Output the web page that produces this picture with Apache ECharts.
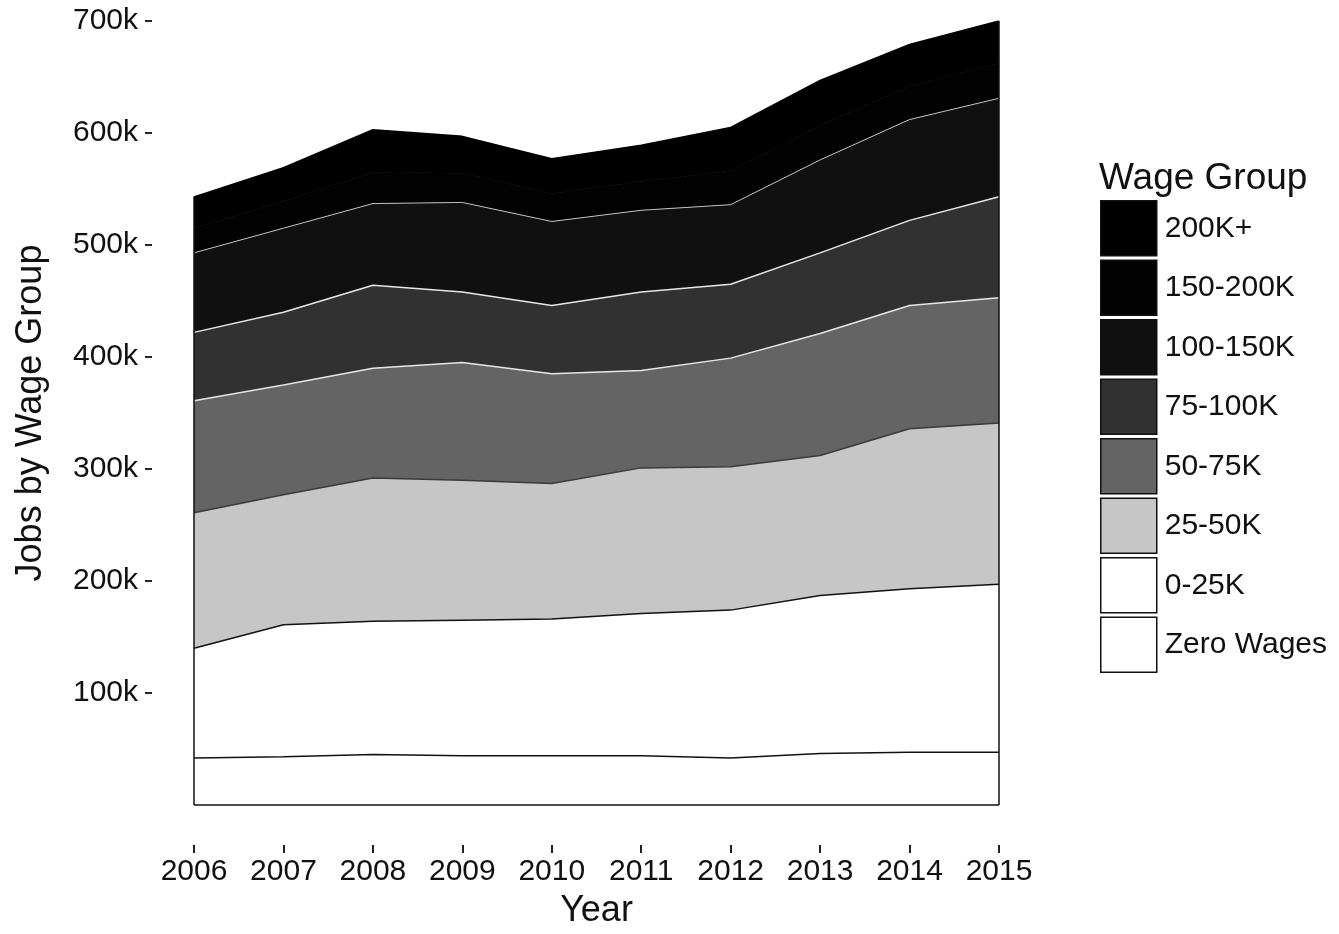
<!DOCTYPE html>
<html>
<head>
<meta charset="utf-8">
<title>Jobs by Wage Group</title>
<script src="https://cdn.jsdelivr.net/npm/echarts@6/dist/echarts.min.js"></script>
<style>
    html, body { margin: 0; padding: 0; background: #fff; }
    #chart { width: 1339px; height: 934px; }
</style>
</head>
<body>
<div id="chart"></div>
<script>
    // values in thousands of jobs
    var years = ['2006', '2007', '2008', '2009', '2010', '2011', '2012', '2013', '2014', '2015'];
    var zeroWages = [42, 43, 45, 44, 44, 44, 42, 46, 47, 47];
    var wage0to25 = [98, 118, 119, 121, 122, 127, 132, 141, 146, 150];
    var wage25to50 = [121, 116, 128, 125, 121, 130, 128, 125, 143, 144];
    var wage50to75 = [100, 98, 98, 105, 98, 87, 97, 109, 110, 112];
    var wage75to100 = [61, 65, 74, 63, 61, 70, 66, 72, 76, 90];
    var wage100to150 = [71, 75, 73, 80, 75, 73, 71, 83, 90, 88];
    var wage150to200 = [22, 24, 28, 26, 25, 26, 30, 31, 30, 31];
    var wage200plus = [28, 30, 38, 33, 31, 32, 39, 40, 37, 38];
    var yTicks = [100, 200, 300, 400, 500, 600, 700];

    var groups = [
        { name: 'Zero Wages', data: zeroWages, fill: '#ffffff', line: '#111111', w: 1.5 },
        { name: '0-25K', data: wage0to25, fill: '#ffffff', line: '#111111', w: 1.5 },
        { name: '25-50K', data: wage25to50, fill: '#c6c6c6', line: '#3a3a3a', w: 1.5 },
        { name: '50-75K', data: wage50to75, fill: '#646464', line: '#e6e6e6', w: 1.5 },
        { name: '75-100K', data: wage75to100, fill: '#313131', line: '#e6e6e6', w: 1.5 },
        { name: '100-150K', data: wage100to150, fill: '#101010', line: '#bdbdbd', w: 1 },
        { name: '150-200K', data: wage150to200, fill: '#020202', line: '#020202', w: 1 },
        { name: '200K+', data: wage200plus, fill: '#000000', line: '#000000', w: 1.5 }
    ];

    var totals = years.map(function (y, i) {
        return groups.reduce(function (s, g) { return s + g.data[i]; }, 0);
    });
    var last = years.length - 1;

    var font = 'Liberation Sans, Arial, sans-serif';
    var myChart = echarts.init(document.getElementById('chart'));

    var series = groups.map(function (g) {
        return {
            name: g.name,
            type: 'line',
            stack: 'total',
            symbol: 'none',
            showSymbol: false,
            silent: true,
            lineStyle: { color: g.line, width: g.w },
            itemStyle: { color: g.fill },
            areaStyle: { color: g.fill, opacity: 1 },
            data: g.data
        };
    });
    // outline of the whole stack (left, right and bottom edges)
    series[series.length - 1].markLine = {
        silent: true,
        symbol: 'none',
        label: { show: false },
        lineStyle: { color: '#111', width: 1.5, type: 'solid' },
        data: [
            [{ coord: [years[0], 0] }, { coord: [years[0], totals[0]] }],
            [{ coord: [years[last], 0] }, { coord: [years[last], totals[last]] }],
            [{ coord: [years[0], 0] }, { coord: [years[last], 0] }]
        ]
    };

    myChart.setOption({
        animation: false,
        backgroundColor: '#ffffff',
        textStyle: { fontFamily: font },
        title: {
            text: 'Wage Group',
            left: 1099,
            top: 160,
            padding: 0,
            textStyle: { fontFamily: font, fontSize: 37, fontWeight: 'normal', color: '#111' }
        },
        grid: {
            left: 194,
            right: 340,
            top: 21,
            bottom: 129
        },
        legend: {
            orient: 'vertical',
            left: 1100,
            top: 200,
            padding: 0,
            icon: 'rect',
            itemWidth: 56,
            itemHeight: 55,
            itemGap: 3,
            selectedMode: false,
            itemStyle: { borderColor: '#111', borderWidth: 1.5 },
            textStyle: { fontFamily: font, fontSize: 30, color: '#111', padding: [0, 0, 0, 3] },
            data: ['200K+', '150-200K', '100-150K', '75-100K', '50-75K', '25-50K', '0-25K', 'Zero Wages']
        },
        xAxis: {
            type: 'category',
            boundaryGap: false,
            data: years,
            offset: 40,
            name: 'Year',
            nameLocation: 'middle',
            nameGap: 48,
            nameTextStyle: { fontFamily: font, fontSize: 36, color: '#111' },
            axisLine: { show: true, onZero: false, lineStyle: { color: '#fff', width: 0, opacity: 0 } },
            axisTick: { show: true, interval: 0, length: 8, lineStyle: { color: '#222', width: 2 } },
            axisLabel: { fontFamily: font, fontSize: 30, color: '#111', margin: 12, interval: 0 },
            splitLine: { show: false }
        },
        yAxis: {
            type: 'value',
            min: 0,
            max: yTicks[yTicks.length - 1],
            interval: 100,
            offset: 42,
            name: 'Jobs by Wage Group',
            nameLocation: 'middle',
            nameGap: 103,
            nameTextStyle: { fontFamily: font, fontSize: 36, color: '#111' },
            axisLine: { show: false, onZero: false },
            axisTick: { show: true, length: 7, customValues: yTicks, lineStyle: { color: '#222', width: 2 } },
            axisLabel: {
                fontFamily: font,
                fontSize: 30,
                color: '#111',
                margin: 14,
                customValues: yTicks,
                formatter: function (v) { return v + 'k'; }
            },
            splitLine: { show: false }
        },
        series: series
    });
</script>
</body>
</html>
